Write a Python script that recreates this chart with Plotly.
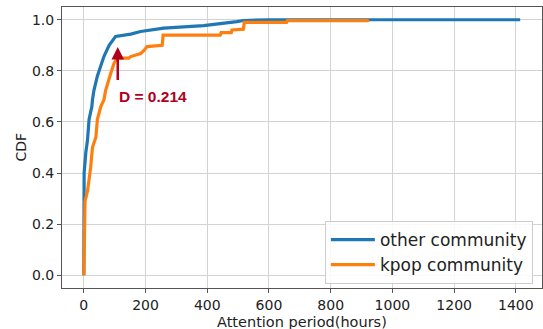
import plotly.graph_objects as go

# other community CDF
other_x = [0, 0, 1, 6.5, 12, 17, 26, 28, 33, 44, 55, 65, 82, 103, 152, 184, 259, 377, 388, 496, 517, 600, 1414]
other_y = [0, 0.25, 0.40, 0.48, 0.53, 0.61, 0.66, 0.686, 0.725, 0.78, 0.82, 0.856, 0.90, 0.935, 0.944, 0.954, 0.967, 0.974, 0.977, 0.993, 0.997, 1.0, 1.0]

# kpop community CDF
kpop_x = [0, 1, 4, 12, 22, 28, 39, 44, 55, 65, 71, 87, 98, 109, 146, 150, 168, 184, 195, 205, 254, 257, 442, 445, 478, 480, 517, 520, 657, 660, 920, 924]
kpop_y = [0, 0.16, 0.29, 0.33, 0.42, 0.50, 0.54, 0.61, 0.66, 0.686, 0.725, 0.79, 0.83, 0.85, 0.85, 0.855, 0.863, 0.868, 0.88, 0.895, 0.90, 0.94, 0.94, 0.95, 0.95, 0.96, 0.963, 0.99, 0.99, 0.997, 0.997, 1.0]

x_ticks = [0, 200, 400, 600, 800, 1000, 1200, 1400]
y_ticks = [0.0, 0.2, 0.4, 0.6, 0.8, 1.0]

x_title = "Attention period(hours)"
y_title = "CDF"

d_x = 110
d_top = 0.893
d_bottom = 0.758
d_label = "D = 0.214"

FONT = "DejaVu Sans"
RED = "#b0001c"
TXT = "#222222"
fig = go.Figure()
fig.add_trace(go.Scatter(x=other_x, y=other_y, mode="lines", name="other community",
                         line=dict(color="#1f77b4", width=3.2)))
fig.add_trace(go.Scatter(x=kpop_x, y=kpop_y, mode="lines", name="kpop community",
                         line=dict(color="#ff7f0e", width=3.2)))

fig.add_annotation(x=d_x, y=d_top, ax=d_x, ay=d_bottom, axref="x", ayref="y",
                   xref="x", yref="y", text="", showarrow=True,
                   arrowhead=2, arrowsize=1.0, arrowwidth=2.5, arrowcolor=RED)
fig.add_annotation(x=d_x - 3, y=0.70, xref="x", yref="y", text="<b>" + d_label + "</b>",
                   showarrow=False, xanchor="left", yanchor="middle",
                   font=dict(family="Liberation Sans", size=15.5, color=RED))

# axis titles as annotations (precise placement)
fig.add_annotation(x=0.5, y=-0.121, xref="paper", yref="paper", text=x_title, showarrow=False,
                   xanchor="center", yanchor="middle", font=dict(family=FONT, size=14.5, color=TXT))
fig.add_annotation(x=-0.0875, y=0.5, xref="paper", yref="paper", text=y_title, showarrow=False,
                   textangle=-90, xanchor="center", yanchor="middle", font=dict(family=FONT, size=14, color=TXT))

axis_common = dict(showline=True, mirror=True, linecolor="#555555", linewidth=1,
                   showgrid=True, gridcolor="#d3d3d3", gridwidth=1, zeroline=False,
                   ticks="outside", ticklen=4, tickcolor="#555555",
                   tickfont=dict(family=FONT, size=14, color=TXT))

fig.update_xaxes(range=[-70.7, 1484.7], tickvals=x_ticks, ticktext=[str(v) for v in x_ticks],
                 automargin=False, **axis_common)
fig.update_yaxes(range=[-0.05, 1.05], tickvals=y_ticks, ticktext=[f"{v:.1f}" for v in y_ticks],
                 automargin=False, **axis_common)

fig.update_layout(width=543, height=329, margin=dict(l=62, r=1, t=7, b=41, autoexpand=False),
                  paper_bgcolor="white", plot_bgcolor="white",
                  font=dict(family=FONT),
                  legend=dict(x=0.981, y=0.014, xanchor="right", yanchor="bottom",
                              bgcolor="rgba(255,255,255,0.85)", bordercolor="#cccccc", borderwidth=1,
                              font=dict(family=FONT, size=17, color=TXT),
                              itemwidth=44, tracegroupgap=0))

fig.write_html("out.html", config={"displayModeBar": False},
               post_script="document.body.style.margin='0px';document.body.style.padding='0px';")
